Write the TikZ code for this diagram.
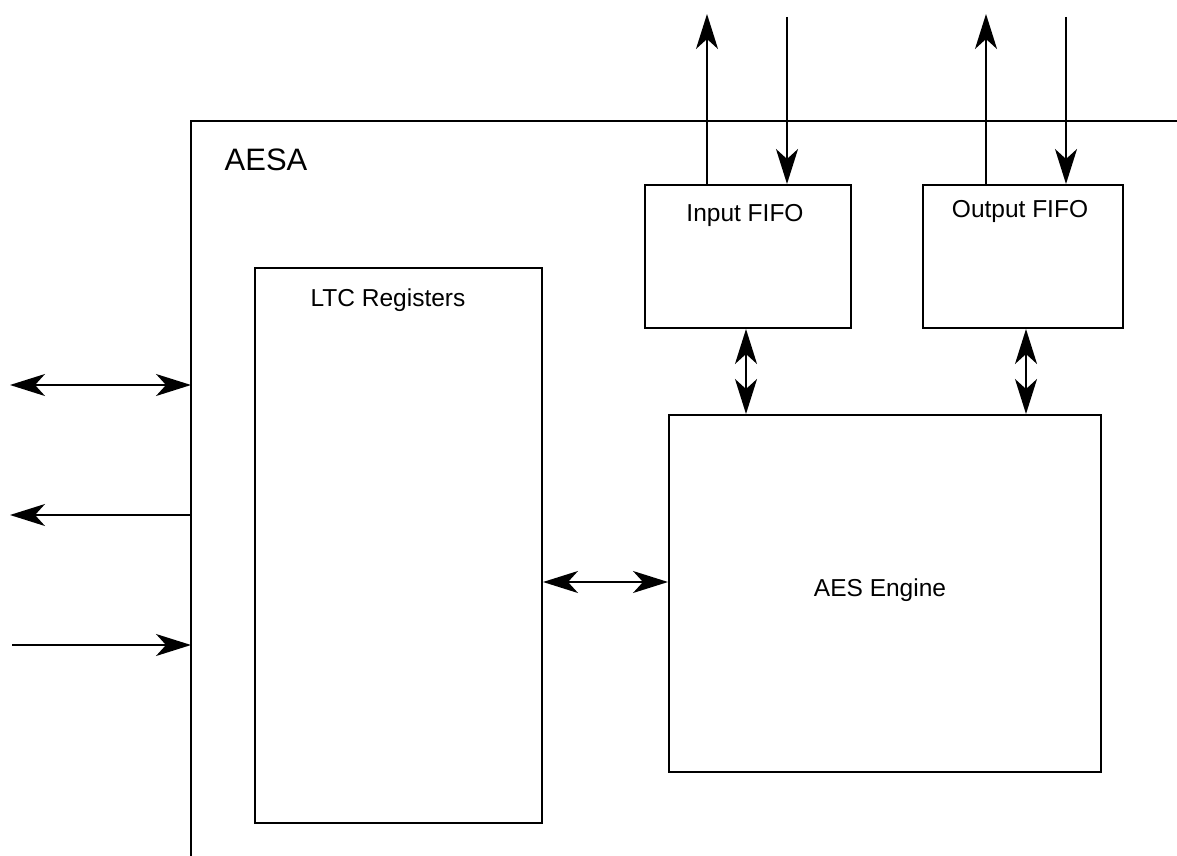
\documentclass[tikz,border=0pt]{standalone}
\usepackage{fontspec}
\setmainfont{Liberation Sans}
\usetikzlibrary{arrows.meta}
\begin{document}
\begin{tikzpicture}[x=1pt,y=-1pt,line width=2pt,
  box/.style={draw,rectangle,inner sep=0pt,anchor=north west},
  lbl/.style={font=\fontsize{24.5}{28}\selectfont,inner sep=0pt},
  biglbl/.style={font=\fontsize{31}{36}\selectfont,inner sep=0pt},
  tip/.style={-{Stealth[length=35pt,width=22pt,inset=10pt]}},
  dtip/.style={{Stealth[length=35pt,width=22pt,inset=10pt]}-{Stealth[length=35pt,width=22pt,inset=10pt]}}]
\useasboundingbox (0,0) rectangle (1177,856);
% outer AESA boundary
\coordinate (aesaNE) at (1177,121);
\coordinate (aesaNW) at (191,121);
\coordinate (aesaSW) at (191,856);
\draw (aesaNE) -- (aesaNW) -- (aesaSW);
\node[biglbl] (aesal) at (266,160) {AESA};
% boxes
\node[box,minimum width=287pt,minimum height=555pt] (ltc) at (254,267) {};
\node[box,minimum width=206pt,minimum height=143pt] (infifo) at (644,184) {};
\node[box,minimum width=200pt,minimum height=143pt] (outfifo) at (922,184) {};
\node[box,minimum width=432pt,minimum height=357pt] (aes) at (668,414) {};
% labels
\node[lbl] (ltcl) at (388,300) {LTC Registers};
\node[lbl] (infifol) at (745,215) {Input FIFO};
\node[lbl] (outfifol) at (1020,211) {Output FIFO};
\node[lbl] (aesl) at (880,590) {AES Engine};
% helper coordinates
\coordinate (inOut) at (707,14);
\coordinate (inIn) at (787,17);
\coordinate (outOut) at (986,14);
\coordinate (outIn) at (1066,17);
\coordinate (vA) at (746,0);
\coordinate (vB) at (1026,0);
\coordinate (hM) at (0,582);
\coordinate (l1) at (10,385);
\coordinate (l2) at (10,515);
\coordinate (l3) at (12,645);
% top arrows
\draw[tip] (infifo.north -| inOut) -- (inOut);
\draw[tip] (inIn) -- (infifo.north -| inIn);
\draw[tip] (outfifo.north -| outOut) -- (outOut);
\draw[tip] (outIn) -- (outfifo.north -| outIn);
% fifo <-> engine
\draw[dtip] (infifo.south -| vA) -- (aes.north -| vA);
\draw[dtip] (outfifo.south -| vB) -- (aes.north -| vB);
% ltc <-> engine
\draw[dtip] (ltc.east |- hM) -- (aes.west |- hM);
% left side
\draw[dtip] (l1) -- (l1 -| aesaNW);
\draw[tip] (l2 -| aesaNW) -- (l2);
\draw[tip] (l3) -- (l3 -| aesaNW);
\end{tikzpicture}
\end{document}
